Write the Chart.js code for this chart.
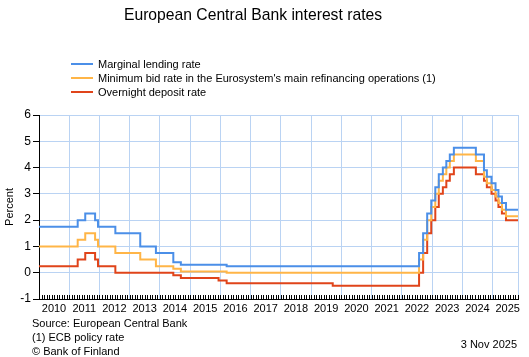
<!DOCTYPE html>
<html>
<head>
<meta charset="utf-8">
<script src="https://cdn.jsdelivr.net/npm/chart.js@4/dist/chart.umd.min.js"></script>
<style>
  html, body { margin: 0; padding: 0; background: #fff; }
  #wrap { position: relative; width: 529px; height: 357px; overflow: hidden; font-family: "Liberation Sans", Arial, sans-serif; color: #000; }
  #c { position: absolute; left: 0; top: 0; }
  .t { position: absolute; white-space: nowrap; font-size: 11px; line-height: 14px; }
  #title { position: absolute; left: 0; width: 506px; text-align: center; top: 5px; font-size: 15.7px; line-height: 20px; white-space: nowrap; }
  .sw { position: absolute; width: 22px; height: 2px; }
</style>
</head>
<body>
<div id="wrap">
  <canvas id="c" width="529" height="357"></canvas>
  <div id="title">European Central Bank interest rates</div>
  <div id="legend"></div>
  <div class="t" style="left:32px; top:316px;">Source: European Central Bank</div>
  <div class="t" style="left:32px; top:330px;">(1) ECB policy rate</div>
  <div class="t" style="left:32px; top:344px;">© Bank of Finland</div>
  <div class="t" style="right:12px; top:337px;">3 Nov 2025</div>
</div>
<script>
// ---- Data (ECB key interest rates, %) ----
const changeDates = [
  '2010-01-01','2011-04-13','2011-07-13','2011-11-09','2011-12-14','2012-07-11',
  '2013-05-08','2013-11-13','2014-06-11','2014-09-10','2015-12-09','2016-03-16',
  '2019-09-18','2022-07-27','2022-09-14','2022-11-02','2022-12-21','2023-02-08',
  '2023-03-22','2023-05-10','2023-06-21','2023-08-02','2023-09-20','2024-06-12',
  '2024-09-18','2024-10-23','2024-12-18','2025-02-05','2025-03-12','2025-04-23',
  '2025-06-11','2025-11-03'
];
const marginalLending = [
  1.75,2.00,2.25,2.00,1.75,1.50,
  1.00,0.75,0.40,0.30,0.30,0.25,
  0.25,0.75,1.50,2.25,2.75,3.25,
  3.75,4.00,4.25,4.50,4.75,4.50,
  3.90,3.65,3.40,3.15,2.90,2.65,
  2.40,2.40
];
const mainRefinancing = [
  1.00,1.25,1.50,1.25,1.00,0.75,
  0.50,0.25,0.15,0.05,0.05,0.00,
  0.00,0.50,1.25,2.00,2.50,3.00,
  3.50,3.75,4.00,4.25,4.50,4.25,
  3.65,3.40,3.15,2.90,2.65,2.40,
  2.15,2.15
];
const depositFacility = [
  0.25,0.50,0.75,0.50,0.25,0.00,
  0.00,0.00,-0.10,-0.20,-0.30,-0.40,
  -0.50,0.00,0.75,1.50,2.00,2.50,
  3.00,3.25,3.50,3.75,4.00,3.75,
  3.50,3.25,3.00,2.75,2.50,2.25,
  2.00,2.00
];
const seriesNames = [
  'Marginal lending rate',
  "Minimum bid rate in the Eurosystem's main refinancing operations (1)",
  'Overnight deposit rate'
];
const seriesColors = ['#4b8fe8', '#ffb547', '#e0441a'];
const yearLabels = ['2010','2011','2012','2013','2014','2015','2016','2017','2018','2019','2020','2021','2022','2023','2024','2025'];
const yTicks = [-1,0,1,2,3,4,5,6];
const startDate = '2010-01-01';
const endDate = '2025-11-03';

function decYear(s) {
  const [y, m, d] = s.split('-').map(Number);
  const t0 = Date.UTC(y, 0, 1), t1 = Date.UTC(y + 1, 0, 1);
  return y + (Date.UTC(y, m - 1, d) - t0) / (t1 - t0);
}
const xs = changeDates.map(decYear);
const xMin = decYear(startDate), xMax = decYear(endDate);
const toPts = vals => vals.map((v, i) => ({ x: xs[i], y: v }));

// HTML legend
const lg = document.getElementById('legend');
seriesNames.forEach((n, i) => {
  const top = 56.5 + i * 14;
  const sw = document.createElement('div');
  sw.className = 'sw';
  sw.style.left = '71px';
  sw.style.top = (top + 7 - 1) + 'px';
  sw.style.background = seriesColors[i];
  lg.appendChild(sw);
  const t = document.createElement('div');
  t.className = 't';
  t.style.left = '98px';
  t.style.top = top + 'px';
  t.textContent = n;
  lg.appendChild(t);
});

const gridColor = '#bad3f3';

const minorTicks = {
  id: 'minorTicks',
  afterDraw(chart) {
    const xs_ = chart.scales.x, ctx = chart.ctx, b = chart.chartArea.bottom;
    ctx.save();
    ctx.strokeStyle = '#000';
    ctx.lineWidth = 1;
    ctx.beginPath();
    for (let m = 0; ; m++) {
      const v = 2010 + m / 12;
      if (v > xMax + 1e-9) break;
      const px = Math.round(xs_.getPixelForValue(v)) + 0.5;
      ctx.moveTo(px, b - 4);
      ctx.lineTo(px, b);
    }
    ctx.stroke();
    ctx.restore();
  }
};

new Chart(document.getElementById('c'), {
  type: 'line',
  data: {
    datasets: [
      { label: seriesNames[0], data: toPts(marginalLending), borderColor: seriesColors[0] },
      { label: seriesNames[1], data: toPts(mainRefinancing), borderColor: seriesColors[1] },
      { label: seriesNames[2], data: toPts(depositFacility), borderColor: seriesColors[2] }
    ].map(d => Object.assign(d, { stepped: 'before', borderWidth: 2, pointRadius: 0, fill: false, tension: 0 }))
  },
  options: {
    responsive: false,
    devicePixelRatio: 1,
    animation: false,
    layout: { padding: { top: 115, right: 11, bottom: 41, left: 0 } },
    plugins: { legend: { display: false }, title: { display: false }, tooltip: { enabled: false } },
    scales: {
      x: {
        type: 'linear',
        min: xMin,
        max: xMax,
        afterBuildTicks: s => { s.ticks = yearLabels.map(l => ({ value: Number(l) })).concat([{ value: xMax }]); },
        afterFit: s => { s.height = 17; },
        grid: { color: gridColor, lineWidth: 1, drawTicks: false },
        border: { color: '#000', width: 1 },
        ticks: {
          autoSkip: false, maxRotation: 0, minRotation: 0, padding: 3, labelOffset: 15,
          color: '#000', font: { family: '"Liberation Sans", Arial, sans-serif', size: 11 },
          callback: (v, i) => (i < yearLabels.length ? yearLabels[i] : '')
        }
      },
      y: {
        min: yTicks[0],
        max: yTicks[yTicks.length - 1],
        afterBuildTicks: s => { s.ticks = yTicks.map(v => ({ value: v })); },
        afterFit: s => { s.width = 39; },
        grid: { color: gridColor, lineWidth: 1, tickColor: '#000', tickLength: 6 },
        border: { color: '#000', width: 1 },
        ticks: { padding: 2, color: '#000', font: { family: '"Liberation Sans", Arial, sans-serif', size: 12 } },
        title: { display: true, text: 'Percent', color: '#000', padding: { top: 3, bottom: 0 }, font: { family: '"Liberation Sans", Arial, sans-serif', size: 11 } }
      }
    }
  },
  plugins: [minorTicks]
});
</script>
</body>
</html>
